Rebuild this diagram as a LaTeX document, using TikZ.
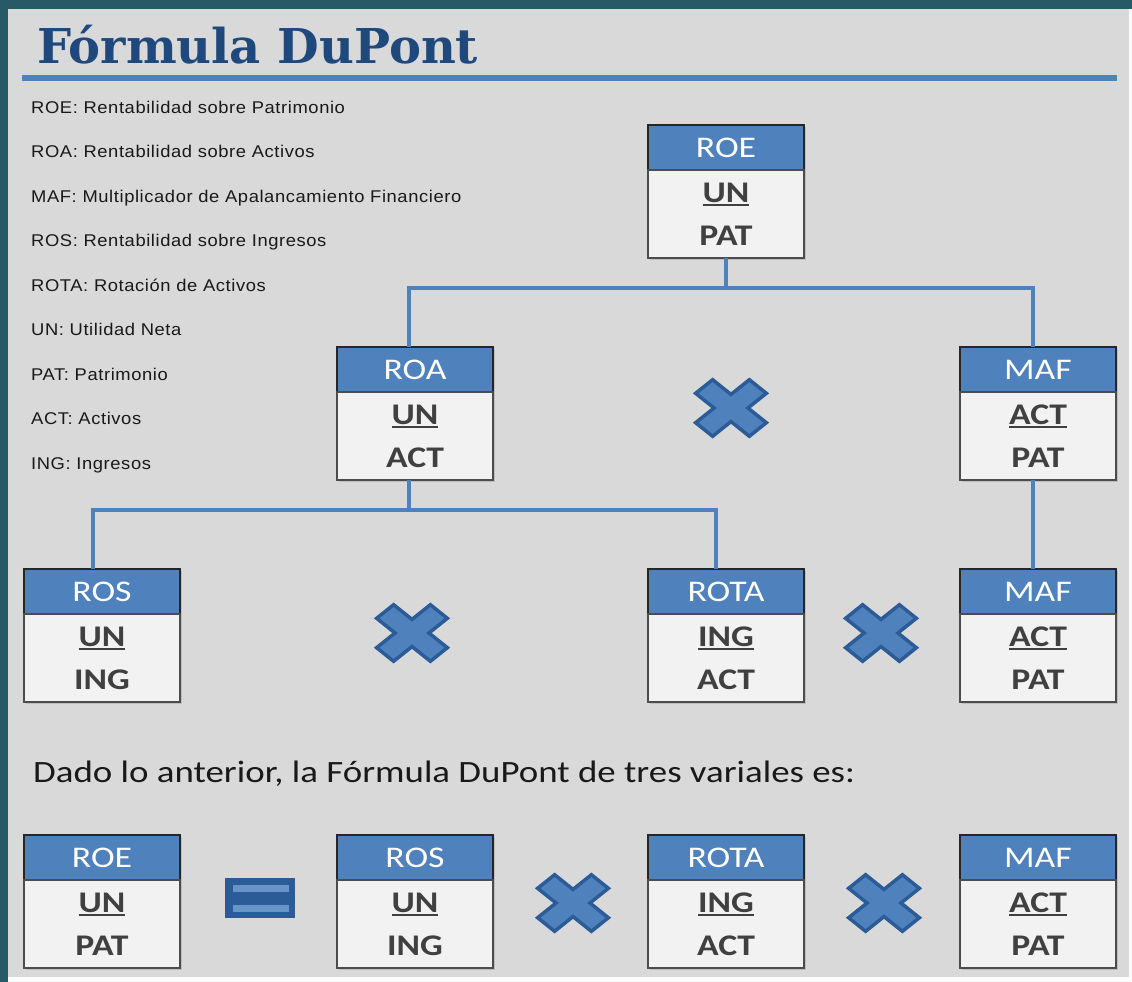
\documentclass[tikz,border=0pt]{standalone}
\usepackage{fontspec}
\setmainfont[FakeStretch=1.19]{Carlito}
\newfontfamily\titlefont{DejaVu Serif}
\newfontfamily\legendfont[FakeStretch=1.08,LetterSpace=3.5]{Liberation Sans}
\usetikzlibrary{positioning, shadows}

\definecolor{hdblue}{HTML}{4F81BD}
\definecolor{dkblue}{HTML}{2C5C97}
\definecolor{titleblue}{HTML}{1F497D}
\definecolor{frameteal}{HTML}{275A66}
\definecolor{bggray}{HTML}{D9D9D9}
\definecolor{bodygray}{HTML}{F2F2F2}
\definecolor{txtgray}{HTML}{404040}

\newcommand\ulbar[1]{\setbox0=\hbox{#1}\rlap{\rule[-4pt]{\wd0}{2.4pt}}\box0}

\begin{document}
\begin{tikzpicture}[x=1pt,y=-1pt,
	head/.style={draw=black!85,line width=1.3pt,fill=hdblue,text=white,minimum width=156pt,minimum height=45pt,inner sep=0pt,outer sep=0pt,font=\fontsize{30}{30}\selectfont,drop shadow={shadow xshift=2pt,shadow yshift=-2pt,opacity=.3}},
	body/.style={draw=black!70,line width=1.3pt,fill=bodygray,text=txtgray,minimum width=156pt,minimum height=88pt,inner sep=0pt,outer sep=0pt,align=center,font=\fontsize{30}{43}\selectfont\bfseries,drop shadow={shadow xshift=2pt,shadow yshift=-2pt,opacity=.3}},
	link/.style={draw=hdblue,line width=3.5pt},
	legend/.style={anchor=base west,inner sep=0pt,text=black!90,font=\legendfont\fontsize{17}{17}\selectfont},
	timesmark/.pic={\draw[draw=dkblue,fill=hdblue,line width=3.5pt,yscale=.8,rotate=45]
		(12,38) -- (12,12) -- (38,12) -- (38,-12) -- (12,-12) -- (12,-38) -- (-12,-38) -- (-12,-12) -- (-38,-12) -- (-38,12) -- (-12,12) -- (-12,38) -- cycle;}]

	% page
	\useasboundingbox (0,0) rectangle (1132,982);
	\fill[bggray] (0,0) rectangle (1132,982);
	\fill[white!90!bggray] (1129,0) rectangle (1132,982);
	\fill[white!90!bggray] (0,977) rectangle (1132,982);
	\fill[frameteal] (0,0) rectangle (1132,9);
	\fill[frameteal] (0,0) rectangle (8,982);

	% title
	\node[anchor=base west,inner sep=0pt,text=titleblue,font=\titlefont\bfseries\fontsize{48}{48}\selectfont] (title) at (37,63.5) {Fórmula DuPont};
	\draw[hdblue,line width=6pt] (22,78) -- (1117,78);

	% legend
	\node[legend] (l1) at (31,113) {ROE: Rentabilidad sobre Patrimonio};
	\node[legend] (l2) at (31,157.5) {ROA: Rentabilidad sobre Activos};
	\node[legend] (l3) at (31,202) {MAF: Multiplicador de Apalancamiento Financiero};
	\node[legend] (l4) at (31,246.5) {ROS: Rentabilidad sobre Ingresos};
	\node[legend] (l5) at (31,291) {ROTA: Rotación de Activos};
	\node[legend] (l6) at (31,335.5) {UN: Utilidad Neta};
	\node[legend] (l7) at (31,380) {PAT: Patrimonio};
	\node[legend] (l8) at (31,424.5) {ACT: Activos};
	\node[legend] (l9) at (31,469) {ING: Ingresos};

	% tree
	\node[head] (roe-h) at (726,147.5) {ROE};
	\node[body,below=0pt of roe-h] (roe) {\ulbar{UN}\\PAT};
	\node[head] (roa-h) at (415,369.5) {ROA};
	\node[body,below=0pt of roa-h] (roa) {\ulbar{UN}\\ACT};
	\node[head] (maf-h) at (1038,369.5) {MAF};
	\node[body,below=0pt of maf-h] (maf) {\ulbar{ACT}\\PAT};
	\node[head] (ros-h) at (102,591.5) {ROS};
	\node[body,below=0pt of ros-h] (ros) {\ulbar{UN}\\ING};
	\node[head] (rota-h) at (726,591.5) {ROTA};
	\node[body,below=0pt of rota-h] (rota) {\ulbar{ING}\\ACT};
	\node[head] (maf2-h) at (1038,591.5) {MAF};
	\node[body,below=0pt of maf2-h] (maf2) {\ulbar{ACT}\\PAT};

	\coordinate[below=30pt of roe] (bus1);
	\coordinate (bus2) at ([xshift=-6pt,yshift=-30pt]roa.south);
	\draw[link] (roe.south) -- (bus1);
	\draw[link] ([xshift=-6pt]roa-h.north) |- (bus1) -| ([xshift=-5pt]maf-h.north);
	\draw[link] ([xshift=-6pt]roa.south) -- (bus2);
	\draw[link] ([xshift=-9pt]ros-h.north) |- (bus2) -| ([xshift=-10pt]rota-h.north);
	\draw[link] ([xshift=-5pt]maf.south) -- ([xshift=-5pt]maf2-h.north);

	\pic at (731,408) {timesmark};
	\pic at (412,633) {timesmark};
	\pic at (881,633) {timesmark};

	% result
	\node[anchor=base west,inner sep=0pt,text=black!90,font=\fontsize{31}{31}\selectfont] (result) at (33,782) {Dado lo anterior, la Fórmula DuPont de tres variales es:};

	\node[head] (roe2-h) at (102,857.5) {ROE};
	\node[body,below=0pt of roe2-h] (roe2) {\ulbar{UN}\\PAT};
	\node[head] (ros2-h) at (415,857.5) {ROS};
	\node[body,below=0pt of ros2-h] (ros2) {\ulbar{UN}\\ING};
	\node[head] (rota2-h) at (726,857.5) {ROTA};
	\node[body,below=0pt of rota2-h] (rota2) {\ulbar{ING}\\ACT};
	\node[head] (maf3-h) at (1038,857.5) {MAF};
	\node[body,below=0pt of maf3-h] (maf3) {\ulbar{ACT}\\PAT};

	\fill[dkblue] (225,878) rectangle (295,918);
	\fill[hdblue!85!white] (233,885) rectangle (289,892);
	\fill[hdblue!85!white] (233,905) rectangle (289,912);
	\pic at (573,903) {timesmark};
	\pic at (884,903) {timesmark};
\end{tikzpicture}
\end{document}
